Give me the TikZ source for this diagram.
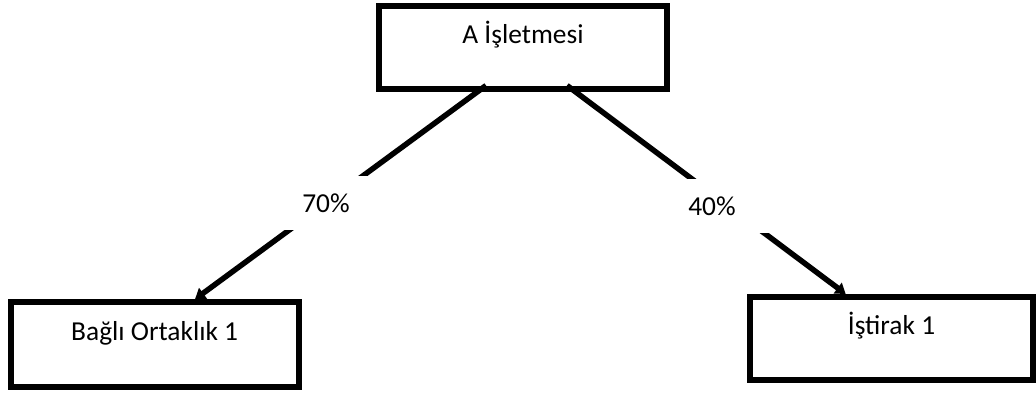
\documentclass[tikz,border=0pt]{standalone}
\usepackage{fontspec}
\setmainfont{Carlito}
\usetikzlibrary{calc,arrows.meta}

\begin{document}
\begin{tikzpicture}[x=0.5pt,y=-0.5pt,
    box/.style={draw,line width=3pt,minimum width=144pt,minimum height=41.5pt,inner sep=0pt,
      text height=10pt,text depth=14pt,font=\fontsize{13.7}{16}\selectfont},
    share/.style={fill=white,minimum width=58pt,minimum height=27pt,inner sep=0pt,
      font=\fontsize{13.7}{16}\selectfont},
    link/.style={line width=2.75pt,-{Triangle[length=5pt,width=6.5pt]}}]
  \useasboundingbox (0,0) rectangle (1036,392);

  % company and its holdings
  \node[box] (A) at (523,47) {A İşletmesi};
  \node[box,minimum height=42.5pt] (B) at (154.7,344.7) {Bağlı Ortaklık 1};
  \node[box,minimum width=141.5pt] (C) at (891.5,338.5) {İştirak 1};

  % ownership shares
  \draw[link] ($(A.south)+(-37,-6)$) -- node[share,pos=0.55] {70\%} ($(B.north)+(40.3,0)$);
  \draw[link] ($(A.south)+(44,-6)$) -- node[share,pos=0.52,yshift=-6pt] {40\%} ($(C.north)+(-45.8,0)$);
\end{tikzpicture}
\end{document}
